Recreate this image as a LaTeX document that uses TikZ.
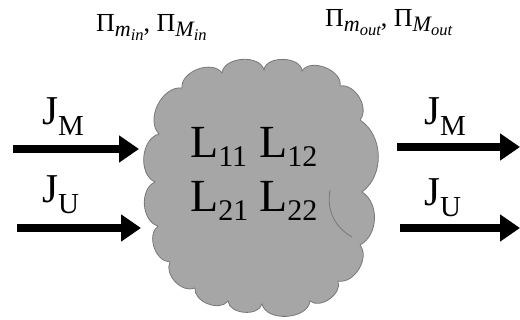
\documentclass[tikz,border=0pt]{standalone}
\usepackage{fontspec}
\setmainfont{Liberation Serif}
\usetikzlibrary{arrows.meta}
\definecolor{cloudgray}{RGB}{166,166,166}
\definecolor{cloudedge}{RGB}{120,120,120}
\begin{document}
\begin{tikzpicture}[x=1pt,y=-1pt,
  flow/.style={line width=7.5pt,-{Triangle[length=20pt,width=26pt]}},
  cloudline/.style={draw=cloudedge,line width=0.8pt,fill=cloudgray},
  jlab/.style={inner sep=0pt,font=\fontsize{41}{44}\selectfont},
  llab/.style={inner sep=0pt,font=\fontsize{46}{50}\selectfont},
  pilab/.style={inner sep=0pt,font=\fontsize{26}{28}\selectfont}]
\useasboundingbox (0,0) rectangle (520,320);
\newcommand{\jsub}[1]{\raisebox{-11pt}{\fontsize{29}{30}\selectfont #1}}
\newcommand{\lsub}[1]{\raisebox{-9pt}{\fontsize{30}{32}\selectfont #1}}
\newcommand{\pisub}[2]{Π\raisebox{-5pt}{\fontsize{22}{23}\selectfont\itshape #1\raisebox{-4pt}{\fontsize{16.5}{17}\selectfont #2}}}
% cloud joints
\coordinate (A) at (182,88);
\coordinate (B) at (222,73);
\coordinate (C) at (264,70);
\coordinate (D) at (302,71);
\coordinate (E) at (340,86);
\coordinate (F) at (360,120);
\coordinate (G) at (362,192);
\coordinate (H) at (360,245);
\coordinate (I) at (338,281);
\coordinate (J) at (310,301);
\coordinate (K) at (262,304);
\coordinate (L) at (228,301);
\coordinate (M) at (195,288);
\coordinate (N) at (170,262);
\coordinate (O) at (158,226);
\coordinate (P) at (155,182);
\coordinate (Pa) at (159,134);
\path[cloudline] (A) to[bend left=75] (B) to[bend left=80] (C)
  to[bend left=85] (D) to[bend left=80] (E) to[bend left=70] (F)
  to[bend left=55] (G) to[bend left=60] (H) to[bend left=70] (I)
  to[bend left=75] (J) to[bend left=80] (K) to[bend left=80] (L)
  to[bend left=75] (M) to[bend left=70] (N) to[bend left=70] (O)
  to[bend left=70] (P) to[bend left=70] (Pa) to[bend left=70] (A) -- cycle;
\coordinate (Q1) at (330,190);
\coordinate (Q2) at (352,237);
\draw[cloudedge,line width=0.8pt] (Q1) to[bend right=35] (Q2);
% matrix
\node[llab,anchor=base west] (l11) at (190,158) {L\lsub{11}};
\node[llab,anchor=base west] (l12) at (259,158) {L\lsub{12}};
\node[llab,anchor=base west] (l21) at (190,212) {L\lsub{21}};
\node[llab,anchor=base west] (l22) at (259,212) {L\lsub{22}};
% arrows
\coordinate (lin1s) at (13,149);
\coordinate (lin1e) at (139,149);
\coordinate (lin2s) at (17,228);
\coordinate (lin2e) at (141,228);
\coordinate (rout1s) at (397,147);
\coordinate (rout1e) at (520,147);
\coordinate (rout2s) at (400,228);
\coordinate (rout2e) at (520,228);
\draw[flow] (lin1s) -- (lin1e);
\draw[flow] (lin2s) -- (lin2e);
\draw[flow] (rout1s) -- (rout1e);
\draw[flow] (rout2s) -- (rout2e);
% J labels
\node[jlab,anchor=base west] (jm1) at (42,125) {J\jsub{M}};
\node[jlab,anchor=base west] (ju1) at (42,203) {J\jsub{U}};
\node[jlab,anchor=base west] (jm2) at (424,125) {J\jsub{M}};
\node[jlab,anchor=base west] (ju2) at (424,206) {J\jsub{U}};
% Pi labels
\node[pilab,anchor=base west] (pin) at (96,32) {\pisub{m}{in}, \pisub{M}{in}};
\node[pilab,anchor=base west] (pout) at (325,27) {\pisub{m}{out}, \pisub{M}{out}};
\end{tikzpicture}
\end{document}
